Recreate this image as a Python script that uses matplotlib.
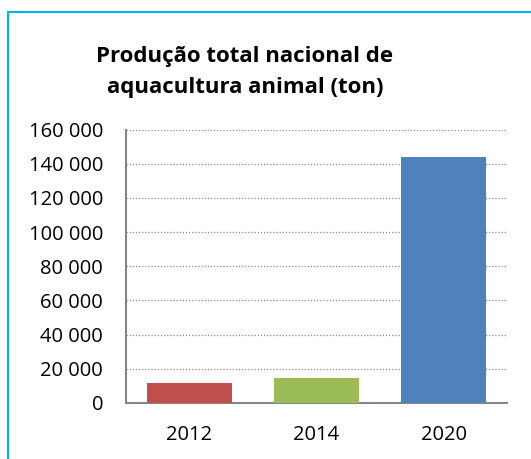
import matplotlib
matplotlib.use("Agg")
import matplotlib.pyplot as plt
from matplotlib.patches import Rectangle
from matplotlib.ticker import FuncFormatter

years = ["2012", "2014", "2020"]
production = [11700, 14800, 144000]
bar_colors = ["#C0504D", "#9BBB59", "#4F81BD"]
title = "Produção total nacional de\naquacultura animal (ton)"

plt.rcParams['font.family'] = ['Open Sans', 'DejaVu Sans']

W, H = 531, 459
fig = plt.figure(figsize=(W / 100, H / 100), dpi=100)

# light blue frame around the chart area
fig.patches.append(Rectangle((8 / W, -0.1), 1.2, 1 - 12 / H + 0.1, transform=fig.transFigure,
                             fill=False, edgecolor="#00B0F0", linewidth=1.5))

ax = fig.add_axes([126 / W, 1 - 403 / H, 381 / W, (403 - 129.5) / H])
ax.bar(years, production, width=0.67, color=bar_colors, zorder=3)

ax.set_ylim(0, 160000)
ax.set_xlim(-0.5, 2.5)
ax.set_yticks(range(0, 160001, 20000))
ax.yaxis.set_major_formatter(FuncFormatter(lambda v, p: f"{int(v):,}".replace(",", " ")))
ax.grid(axis="y", linestyle=(0, (1, 1.5)), color="#8C8C8C", linewidth=0.9, zorder=0)

for s in ["top", "right"]:
    ax.spines[s].set_visible(False)
for s in ["left", "bottom"]:
    ax.spines[s].set_color("#868686")
    ax.spines[s].set_linewidth(1.5)
ax.tick_params(length=0, labelsize=14.5, colors="black")
ax.tick_params(axis="y", pad=16.5)
ax.tick_params(axis="x", pad=16)

fig.text(245 / W, 1 - 72 / H, title, ha="center", va="center", fontsize=16,
         fontweight="bold", linespacing=1.6)

fig.savefig("out.png", dpi=100)
